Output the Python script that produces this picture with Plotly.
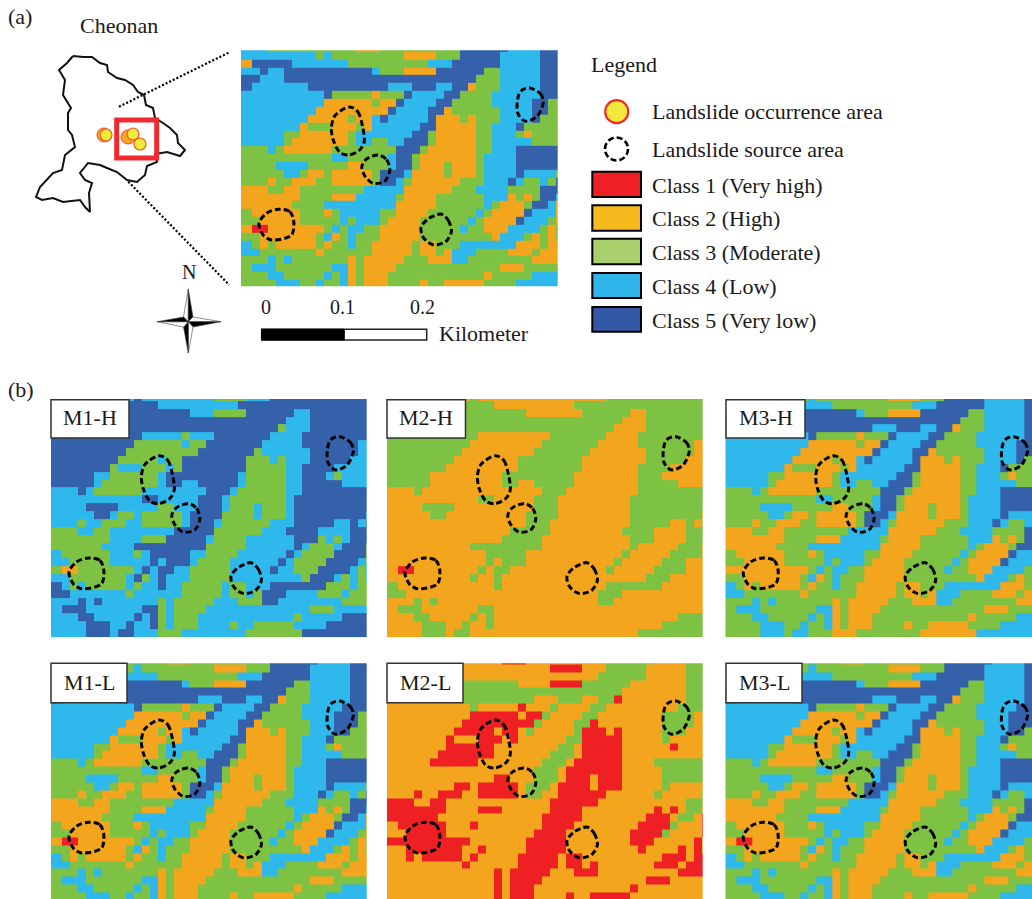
import plotly.graph_objects as go

# ---------- class rasters (one digit per cell, 1 = very high ... 5 = very low) ----------
GRID_A = """
4443333333 3333222333 3333333555 5554444555
4444444443 4333333333 2222333555 5544444555
2555554444 4443333333 3334445555 5544444555
4454455555 5555554333 2222555555 3344444555
5544455555 5555555555 5555555553 3344444555
5444444455 5555555544 4555445523 3344444555
4444444444 5333332333 5444455333 3444444555
4444444444 2222223225 4444553333 3444445533
4444444442 2222222254 4445523333 3344445533
4444444422 2223224544 4445222323 3344445333
4444444233 3222324444 4455222223 3444533333
4444433222 2223444444 4553222223 3444323333
4444432222 2223443344 5553222223 3444443333
3334322222 2333333335 5532222223 3444555555
3333333333 3443333345 5322222223 4444555555
3333444433 3332233345 5322232223 4444555555
3333344322 3222223555 4222232223 4444544443
3332332223 3222223554 3222222333 4445433435
2223322333 3333344444 2222223334 4443333555
2222222333 3222444443 2222333333 4442323554
2222223333 4444444442 2222333333 4322235542
3222222333 2344444332 2223333334 3222254442
3322222333 3343444322 2233333343 2222544432
2112222222 3434433222 2233333433 2224444323
3322222223 4234333222 2233333333 3244432323
4323222223 2334332222 2322333444 4444222322
4433333332 3333332222 2322324443 3332223222
3334343333 3332322222 3332224433 3333332222
3444333333 3442322223 3333333333 3322233333
3334433333 4342322233 3333333333 2333334444
3333444334 3342322233 3323322222 3333444444
"""

GRID_M1H = """
5555555554 5444444444 3333444555 5555555555
3555555555 5554444444 4445555555 5555555555
5555555555 5555555444 3333555555 4455555555
5555555555 5555555555 5555555554 4455555555
5555555555 5555555555 5555555534 4455555555
5555555555 5444443444 5555555444 4555555555
5555555555 3333334335 5555554444 4555555544
5555555553 3333333355 5555534444 4455555544
5555555533 3334335555 5555333434 4455555444
5555555344 4333435555 5555333334 4555544444
5555544333 3334555555 5554333334 4555434444
5555543333 3334554455 5554333334 4555554444
4445433333 3444444445 5543333334 4555555555
4444444444 4554444455 5433333334 5555555555
4444555544 4443344455 5433343334 5555555555
4444455433 4333334555 5333343334 5555555554
4443443334 4333334555 4333333444 5555544545
3334433444 4444455555 3333334445 5554444555
3333333444 4333555554 3333444444 5553434555
3333334444 5555555553 3333444444 5433345553
4333333444 3455555443 3334444445 4333355553
4433333444 4454555433 3344444454 3333555543
3223333333 4545544333 3344444544 3335555434
4433333334 5345444333 3344444444 4355543434
5434333334 3445443333 3433444555 5555333433
5544444443 4444443333 3433435554 4443334333
4445454444 4443433333 4443335544 4444443333
4555444444 4553433334 4444444444 4433344444
4445544444 5453433344 4444444444 3444445555
4444555445 4453433344 4434433333 4444555555
4444555455 4443334444 4444333333 3555555555
"""

GRID_M2H = """
3333333332 3222222222 2222222333 3333333333
2333333333 3332222222 2223333333 3333333333
3333333333 3333333222 2222333333 2233333333
3333333333 3333333333 3333333332 2233333333
3333333333 3333333333 3333333322 2233333333
3333333333 3222222222 3333333222 2333333333
3333333333 2222222223 3333332222 2333333322
3333333332 2222222233 3333322222 2233333322
3333333322 2222223333 3333222222 2233333222
3333333222 2222223333 3333222222 2333322222
3333322222 2222333333 3332222222 2333222222
3333322222 2222332233 3332222222 2333332222
2223222222 2222222223 3322222222 2333333333
2222222222 2332222233 3222222222 3333333333
2222333322 2222222233 3222222222 3333333333
2222233222 2222222333 3222222222 3333333332
2222222222 2222222333 2222222222 3333322323
2222222222 2222233333 2222222223 3332222333
2222222222 2222333332 2222222222 3332222333
2222222222 3333333332 2222222222 3222223332
2222222222 2233333222 2222222223 2222233332
2222222222 2232333222 2222222232 2222333222
2112222222 2323322222 2222222322 2223333222
2222222222 3223222222 2222222222 2233322222
3222222222 2223222222 2222222333 3333222222
3322222222 2222222222 2222223332 2222222222
2223232222 2222222222 2222223322 2222222222
2333222222 2332222222 2222222222 2222222222
2223322222 3232222222 2222222222 2222223333
2222333223 2232222222 2222222222 2222333333
2222333233 2222222222 2222222222 2333333333
"""

GRID_M3H = """
4444444443 4333333333 2222333555 5544444555
2555554444 4443333333 3334445555 5544444555
4454455555 5555554333 2222555555 3344444555
5544455555 5555555555 5555555553 3344444555
5444444455 5555555544 4555445523 3344444555
4444444444 5333332333 5444455333 3444444555
4444444444 2222223225 4444553333 3444445533
4444444442 2222222254 4445523333 3344445533
4444444422 2223224544 4445222323 3344445333
4444444233 3222324444 4455222223 3444533333
4444433222 2223444444 4553222223 3444323333
4444432222 2223443344 5553222223 3444443333
3334322222 2333333335 5532222223 3444555555
3333333333 3443333345 5322222223 4444555555
3333444433 3332233345 5322232223 4444555555
3333344322 3222223555 4222232223 4444544443
3332332223 3222223554 3222222333 4445433435
2223322333 3333344444 2222223334 4443333555
2222222333 3222444443 2222333333 4442323554
2222223333 4444444442 2222333333 4322235542
3222222333 2344444332 2223333334 3222254442
3322222333 3343444322 2233333343 2222544432
2222222222 3434433222 2233333433 2224444323
3322222223 4234333222 2233333333 3244432323
4323222223 2334332222 2322333444 4444222322
4433333332 3333332222 2322324443 3332223222
3334343333 3332322222 3332224433 3333332222
3444333333 3442322223 3333333333 3322233333
3334433333 4342322233 3333333333 2333334444
3333444334 3342322233 3323322222 3333444444
3333444344 3332223333 3333222222 2444444444
"""

GRID_M1L = """
4443333333 3333222333 3333333555 5554444555
4444444443 4333333333 2222333555 5544444555
2555554444 4443333333 3334445555 5544444555
4454455555 5555554333 2222555555 3344444555
5544455555 5555555555 5555555553 3344444555
5444444455 5555555544 4555445523 3344444555
4444444444 5333332333 5444455333 3444445555
4444444444 2222223225 4444553333 3444455533
4444444442 2222222254 4445523333 3344455533
4444444422 2223224544 4445222323 3344455333
4444444233 3222324444 4455222223 3444533333
4444433222 2223444444 4553222223 3444323333
4444432222 2223443344 5553222223 3444443333
3334322222 2333333335 5532222223 3444555555
3333333333 3443333345 5322222223 4444555555
3333444433 3332233345 5322232223 4444555555
3333344322 3222223555 4222232223 4444544443
3332332223 3222223554 3222222333 4445433435
2223322333 3333344444 2222223334 4443333555
2222222333 3222444443 2222333333 4442323554
2222223333 4444444442 2222333333 4322235542
3222222333 2344444332 2223333334 3222254442
3322222333 3343444322 2233333343 2222544432
2112222222 3434433222 2233333433 2224444323
3322222223 4234333222 2233333333 3244432323
4323222223 2334332222 2322333444 4444222322
4433333332 3333332222 2322324443 3332223222
3334343333 3332322222 3332224433 3333332222
3444333333 3442322223 3333333333 3322233333
3334433333 4342322233 3333333333 2333334444
3333444334 3342322233 3323322222 3333444444
"""

GRID_M2L = """
2222222222 2222111222 2222222333 3332222333
2222222222 2222222222 1111222333 3322222333
1333332222 2222222222 2222223333 3322222333
2232233333 3333332222 1111333333 2222222333
3322233333 3333333333 3333333332 2222222333
3222222233 3333333322 2333223312 2222222333
2222222222 3222221222 3222233222 2222223333
2222222222 1111112113 2222332222 2222333322
2222222221 1111111132 2223312222 2222333322
2222222211 1112112322 2223111212 2222333222
2222222122 2111212222 2233111112 2222322222
2222222111 1112222222 2332111112 2222212222
2222221111 1112222222 3332111112 2222222222
2222211111 1222222223 3321111112 2223333333
2222222222 2222222233 3211111112 2222333333
2222222222 2221122233 3211121112 2222333333
2222222211 2111112333 2111121112 2222322222
2221221112 2111112332 2111111222 2223222223
1112211222 2222222222 1111112222 2222222333
1111111222 2111222222 1111222222 2221212332
1111112222 2222222221 1111222222 2211123321
2111111222 1222222221 1112222222 2111132221
2211111222 2222222211 1122222222 1111322221
1111111111 2222222111 1122222222 1112222212
2211111112 2122222111 1122222222 2122221212
2212111112 1222221111 1211222222 2222111211
2222222221 2222221111 1211212222 2221112111
2222222222 2221211111 2221112222 2222221111
2222222222 2221211112 2222222222 2211122222
2222222222 2221211122 2222222222 1222222222
2222222222 2221211122 2212211111 2222222222
"""

GRID_M3L = GRID_M1L

PANEL_NAMES = ["", "M1-H", "M2-H", "M3-H", "M1-L", "M2-L", "M3-L"]
CLASS_COLORS = ["#EE2024", "#F4A51E", "#7DC242", "#2EB8EB", "#3560AA"]
LEGEND_COLORS = ["#EE2024", "#F6BA1E", "#A8CF6B", "#2FB6EA", "#3359A6"]
CLASS_LABELS = ["Class 1 (Very high)", "Class 2 (High)", "Class 3 (Moderate)", "Class 4 (Low)", "Class 5 (Very low)"]

# ---------- landslide source areas, in cells from the panel corner ----------
SOURCE_AREAS = [
    ([13.6, 14.6, 15.2, 15.4, 14.8, 13.4, 12.4, 11.6, 11.3, 11.75], [7.2, 7.8, 9.7, 11.6, 12.7, 13.3, 13.0, 11.6, 9.9, 8.3]),
    ([17.2, 18.2, 18.6, 18.0, 16.5, 15.5, 15.1, 15.7], [13.3, 13.9, 15.2, 16.6, 16.9, 16.0, 14.8, 13.8]),
    ([36.1, 37.4, 37.8, 37.0, 35.5, 34.6, 34.7, 35.2], [4.8, 5.5, 6.5, 8.4, 9.0, 8.0, 5.7, 5.0]),
    ([4.7, 6.1, 6.6, 6.3, 3.8, 2.8, 2.25, 3.2], [20.2, 20.5, 21.8, 23.5, 24.1, 23.5, 22.0, 20.7]),
    ([25.0, 25.9, 26.3, 25.6, 24.0, 22.8, 22.5, 23.3, 24.2], [20.8, 21.6, 23.0, 24.3, 24.7, 23.8, 22.5, 21.5, 21.0]),
]

# ---------- Cheonan outline and points, in page pixels ----------
OUTLINE_X = [73, 83, 92, 100, 107, 108, 117, 125, 133, 138, 144, 146, 153, 155, 163, 170, 177, 178, 185, 180, 167, 155, 157, 147, 145, 137, 127, 117, 107, 100, 88, 80, 85, 92, 89, 90, 85, 80, 63, 53, 42, 36, 40, 53, 62, 65, 75, 72, 68, 68, 71, 63, 65, 59, 67, 73]
OUTLINE_Y = [56, 57, 57, 63, 65, 72, 78, 80, 85, 92, 95, 105, 108, 118, 123, 128, 135, 143, 150, 156, 152, 154, 162, 166, 175, 182, 180, 172, 168, 165, 163, 173, 180, 183, 193, 212, 207, 200, 202, 198, 200, 197, 187, 173, 170, 155, 147, 135, 130, 113, 108, 95, 80, 70, 63, 56]
OCCURRENCE_BACK_X = [104, 128]
OCCURRENCE_BACK_Y = [135, 137]
OCCURRENCE_X = [106, 133, 140]
OCCURRENCE_Y = [135, 134, 144]
ZOOM_LINES = [([119, 229.3], [106.7, 52.3]), ([128.3, 229.3], [181.7, 285])]
SCALE_LABELS = ["0", "0.1", "0.2"]

W, H = 1032, 899
fig = go.Figure()


def parse(text):
    return [[int(c) for c in line if c != " "] for line in text.strip().splitlines()]


colorscale = []
for i, c in enumerate(CLASS_COLORS):
    colorscale += [[i / 5, c], [(i + 1) / 5, c]]

# name, grid, left, right, top, bottom (page px), first row index, y crop
panels = [
    ("", GRID_A, 241, 557.7, 50.3, 286.3, -1, -0.17),
    ("M1-H", GRID_M1H, 51, 366.7, 399, 637.7, 0, 0.75),
    ("M2-H", GRID_M2H, 387, 702.7, 399, 637.7, 0, 0.75),
    ("M3-H", GRID_M3H, 725.3, 1032, 399, 637.7, 0, 0.75),
    ("M1-L", GRID_M1L, 51, 366.7, 663.3, 899, -1, -0.13),
    ("M2-L", GRID_M2L, 387, 702.7, 663.3, 899, -1, -0.13),
    ("M3-L", GRID_M3L, 725.3, 1032, 663.3, 899, -1, -0.13),
]
CELL_W, CELL_H = 8.0, 7.87
X0 = -0.33
layout_axes = {}
for n, (name, text, left, right, top, bottom, first, ytop) in enumerate(panels, start=1):
    z = parse(text)
    xedges = [X0] + list(range(1, 41))
    yedges = list(range(first, first + len(z) + 1))
    sx, sy = ("x", "y") if n == 1 else (f"x{n}", f"y{n}")
    fig.add_trace(go.Heatmap(z=z, x=xedges, y=yedges, xaxis=sx, yaxis=sy, zmin=0.5, zmax=5.5,
                             colorscale=colorscale, showscale=False, hoverinfo="skip"))
    xrange = [X0, X0 + (right - left) / CELL_W]
    yrange = [ytop + (bottom - top) / CELL_H, ytop]
    key = "" if n == 1 else str(n)
    layout_axes[f"xaxis{key}"] = dict(domain=[left / W, right / W], range=xrange, visible=False, anchor=sy, fixedrange=True)
    layout_axes[f"yaxis{key}"] = dict(domain=[1 - bottom / H, 1 - top / H], range=yrange, visible=False, anchor=sx, fixedrange=True)
    for us, vs in SOURCE_AREAS:
        fig.add_trace(go.Scatter(x=[X0 + u for u in us + us[:1]], y=[ytop + v for v in vs + vs[:1]],
                                 xaxis=sx, yaxis=sy, mode="lines", hoverinfo="skip",
                                 line=dict(color="black", width=3, dash="6px,3px", shape="spline", smoothing=0.9)))

# overlay axes in page pixels
layout_axes["xaxis8"] = dict(domain=[0, 1], range=[0, W], visible=False, anchor="y8", fixedrange=True)
layout_axes["yaxis8"] = dict(domain=[0, 1], range=[H, 0], visible=False, anchor="x8", fixedrange=True)


def page(**kw):
    fig.add_trace(go.Scatter(xaxis="x8", yaxis="y8", hoverinfo="skip", **kw))


page(x=OUTLINE_X, y=OUTLINE_Y, mode="lines", line=dict(color="#111", width=2))
for xs, ys in ZOOM_LINES:
    page(x=xs, y=ys, mode="lines", line=dict(color="black", width=2.2, dash="2px,2px"))
page(x=OCCURRENCE_BACK_X, y=OCCURRENCE_BACK_Y, mode="markers",
     marker=dict(size=14, color="#F5A623", line=dict(color="#EE4A30", width=1)))
page(x=OCCURRENCE_X, y=OCCURRENCE_Y, mode="markers",
     marker=dict(size=12, color="#F2EA3A", line=dict(color="#EE5A30", width=1.2)))
page(x=[616.7], y=[111.7], mode="markers", marker=dict(size=23, color="#F2EA3A", line=dict(color="#EE2A2E", width=2.2)))

# compass
C = (188.3, 321.7)
compass = [
    ("white", (188.3, 289), (183.5, 317)), ("black", (188.3, 289), (193, 317)),
    ("white", (221, 321.7), (193, 317)), ("black", (221, 321.7), (193, 327)),
    ("white", (188.3, 353), (193, 327)), ("black", (188.3, 353), (183.5, 327)),
    ("white", (157, 321.7), (183.5, 327)), ("black", (157, 321.7), (183.5, 317)),
]
for color, tip, side in compass:
    page(x=[C[0], tip[0], side[0], C[0]], y=[C[1], tip[1], side[1], C[1]], mode="lines", fill="toself",
         fillcolor=color, line=dict(color="#444", width=0.6))

shapes = []


def rect(x0, y0, x1, y1, fill, line="black", width=1.5):
    shapes.append(dict(type="rect", xref="x8", yref="y8", x0=x0, y0=y0, x1=x1, y1=y1,
                       fillcolor=fill, line=dict(color=line, width=width), layer="above"))


rect(116.7, 120, 156.7, 158, "rgba(0,0,0,0)", "#EE2A2E", 5)
rect(261.7, 329.3, 426.7, 340, "white", "#222", 1.5)
rect(261.7, 329.3, 344.3, 340, "black", "black", 1)
shapes.append(dict(type="circle", xref="x8", yref="y8", x0=605, y0=137.5, x1=628, y1=160.5,
                   line=dict(color="black", width=2.6, dash="6px,3px"), layer="above"))
swatch_tops = [171.7, 205.3, 238.7, 273, 307]
swatch_bottoms = [197, 230.7, 264.3, 298, 331.7]
for c, y0, y1 in zip(LEGEND_COLORS, swatch_tops, swatch_bottoms):
    rect(592.3, y0, 641, y1, c, "black", 2)

boxes = [(51, 129, 399.7, 438), (387, 465.5, 399.7, 438), (726, 805, 399.7, 438),
         (51, 127, 663.3, 702.7), (387, 463, 663.3, 702.7), (726, 802, 663.3, 702.7)]
for x0, x1, y0, y1 in boxes:
    rect(x0, y0, x1, y1, "white", "#333", 1.5)

annots = []


def label(x, y, text, size=22, anchor="left"):
    annots.append(dict(xref="x8", yref="y8", x=x - (2 if anchor == "left" else 0), y=y - 1, text=text, showarrow=False,
                       xanchor=anchor, yanchor="middle",
                       font=dict(family="Liberation Serif", size=size, color="#1a1a1a")))


label(8, 17, "(a)")
label(8, 390, "(b)")
label(80, 26, "Cheonan")
label(188.5, 273, "N", 20, "center")
label(591, 65, "Legend")
label(652, 112, "Landslide occurrence area")
label(652, 150, "Landslide source area")
for lab, y in zip(CLASS_LABELS, [186, 219, 253, 287, 321]):
    label(652, y, lab)
for lab, x in zip(SCALE_LABELS, [266, 342.3, 422.3]):
    label(x, 308, lab, 20, "center")
label(439, 334, "Kilometer")
for (x0, x1, y0, y1), name in zip(boxes, PANEL_NAMES[1:]):
    label((x0 + x1) / 2, (y0 + y1) / 2, name, 22, "center")

fig.update_layout(width=W, height=H, margin=dict(l=0, r=0, t=0, b=0), showlegend=False,
                  paper_bgcolor="white", plot_bgcolor="rgba(0,0,0,0)", shapes=shapes, annotations=annots, **layout_axes)
fig.write_html("out.html", post_script="document.body.style.margin='0';document.body.style.overflow='hidden';",
               config=dict(displayModeBar=False))
